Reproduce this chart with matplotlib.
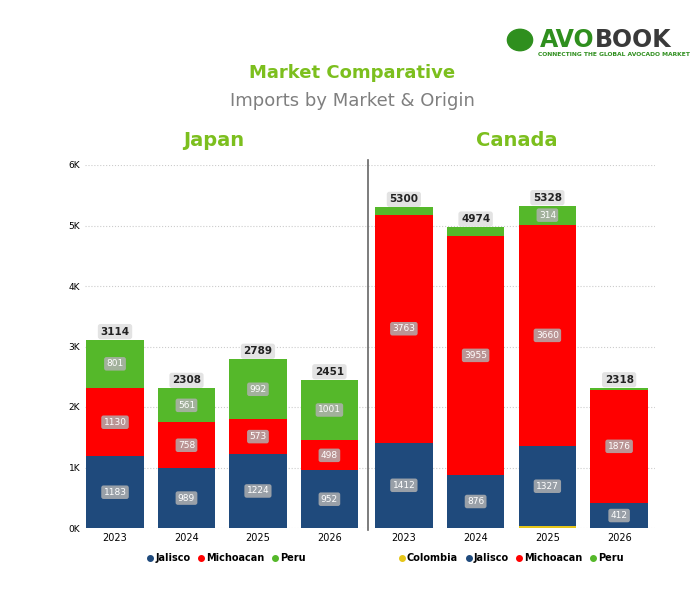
import matplotlib.pyplot as plt
from matplotlib.lines import Line2D
import numpy as np

years = ['2023', '2024', '2025', '2026']
japan = {
    'Jalisco': [1183, 989, 1224, 952],
    'Michoacan': [1130, 758, 573, 498],
    'Peru': [801, 561, 992, 1001],
}
canada = {
    'Colombia': [0, 0, 27, 0],
    'Jalisco': [1412, 876, 1327, 412],
    'Michoacan': [3763, 3955, 3660, 1876],
    'Peru': [125, 143, 314, 30],
}
colors = {'Colombia': '#e6c619', 'Jalisco': '#1f4a7c', 'Michoacan': '#ff0000', 'Peru': '#55b82a'}
green = '#7cbf1e'

fig = plt.figure(figsize=(7, 5.95), dpi=100)
W, H = 700, 595


def box(l, t, r, b):
    return fig.add_axes([l / W, 1 - b / H, (r - l) / W, (b - t) / H])


def draw(ax, data, xlim):
    x = np.arange(len(years))
    bottom = np.zeros(len(years))
    for name, vals in data.items():
        vals = np.array(vals, dtype=float)
        ax.bar(x, vals, 0.8, bottom=bottom, color=colors[name], label=name, zorder=2)
        for i, v in enumerate(vals):
            if v >= 250:
                ax.text(x[i], bottom[i] + v / 2, f'{int(v)}', ha='center', va='center',
                        fontsize=6.5, color='white',
                        bbox=dict(boxstyle='round,pad=0.25', fc='#b0b0b0', ec='none', alpha=0.85))
        bottom += vals
    for i, t in enumerate(bottom):
        ax.text(x[i], t + 50, f'{int(t)}', ha='center', va='bottom', fontsize=7.5,
                fontweight='bold', color='#222222',
                bbox=dict(boxstyle='round,pad=0.25', fc='#e3e3e3', ec='none'))
    ax.set_ylim(0, 6000)
    ax.set_xlim(*xlim)
    ax.set_xticks(x, years, fontsize=7)
    ax.set_yticks(range(0, 6001, 1000), [f'{k}K' for k in range(7)], fontsize=6.5)
    ax.grid(axis='y', linestyle=':', color='#cccccc', zorder=0)
    ax.tick_params(length=0)
    for s in ax.spines.values():
        s.set_visible(False)
    hs = [Line2D([], [], marker='o', ls='', color=colors[n], markersize=4) for n in data]
    ax.legend(hs, list(data), loc='upper center', bbox_to_anchor=(0.5, -0.045), ncol=len(data),
              frameon=False, handlelength=0.6, handletextpad=0.2, columnspacing=0.8,
              prop=dict(size=7, weight='bold'))


ax1 = box(85, 165, 368, 528)
draw(ax1, japan, (-0.42, 3.54))
ax2 = box(368, 165, 655, 528)
draw(ax2, canada, (-0.5, 3.5))
ax2.set_yticklabels([])
fig.add_artist(plt.Line2D([368 / W] * 2, [1 - 160 / H, 1 - 530 / H], color='#666666', lw=1.2))

fig.text(352 / W, 1 - 73 / H, 'Market Comparative', ha='center', va='center',
         fontsize=13, fontweight='bold', color=green)
fig.text(352 / W, 1 - 101 / H, 'Imports by Market & Origin', ha='center', va='center',
         fontsize=13, color='#7f7f7f')
fig.text(214 / W, 1 - 141 / H, 'Japan', ha='center', va='center', fontsize=14,
         fontweight='bold', color=green)
fig.text(517 / W, 1 - 141 / H, 'Canada', ha='center', va='center', fontsize=14,
         fontweight='bold', color=green)

# logo
fig.text(540 / W, 1 - 40 / H, 'AVO', ha='left', va='center', fontsize=17,
         fontweight='bold', color='#2f8f1e')
fig.text(595 / W, 1 - 40 / H, 'BOOK', ha='left', va='center', fontsize=17,
         fontweight='bold', color='#3a3a3a')
fig.text(538 / W, 1 - 55 / H, 'CONNECTING THE GLOBAL AVOCADO MARKET', ha='left', va='center',
         fontsize=4.3, fontweight='bold', color='#2f8f1e')
fig.add_artist(plt.Circle((520 / W, 1 - 40 / H), 0.018, color='#2f8f1e',
                          transform=fig.transFigure))

fig.savefig('out.png', dpi=100, facecolor='white')
